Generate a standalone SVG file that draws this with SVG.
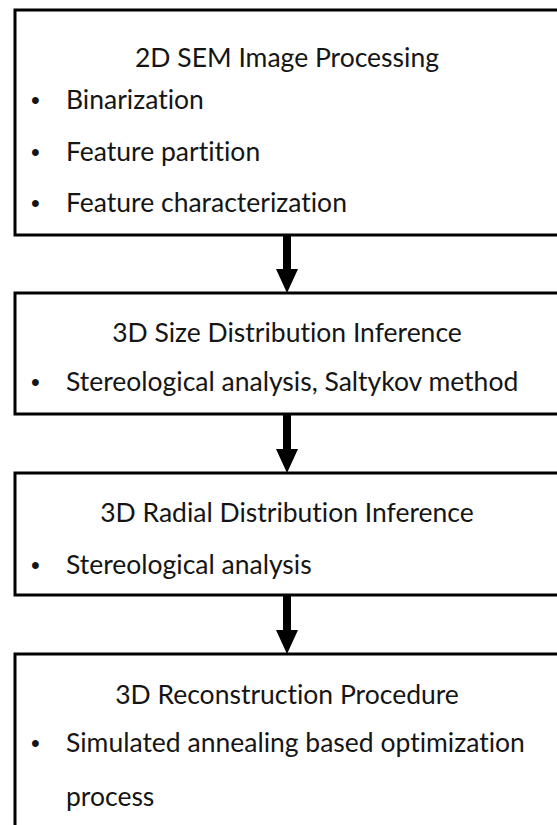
<svg xmlns="http://www.w3.org/2000/svg" width="557" height="825" viewBox="0 0 557 825">
<style>
.box{fill:#fff;stroke:#000;stroke-width:3}
.t{font-family:Lato,"Open Sans","Liberation Sans",sans-serif;font-size:26.5px;fill:#151515;font-variant-ligatures:none}
.b{font-family:"Liberation Sans",sans-serif;font-size:25px;fill:#151515}
.c{text-anchor:middle}
.arrow{fill:#000}
</style>
<rect width="557" height="825" fill="#fff"/>
<g id="node1">
<rect class="box" x="15" y="10" width="570" height="225"/>
<text class="t c" x="287" y="67">2D SEM Image Processing</text>
<text class="b" x="31" y="109">•</text><text class="t" x="66" y="109">Binarization</text>
<text class="b" x="31" y="161">•</text><text class="t" x="66" y="161">Feature partition</text>
<text class="b" x="31" y="212">•</text><text class="t" x="66" y="212">Feature characterization</text>
</g>
<g id="node2">
<rect class="box" x="15" y="293" width="570" height="121"/>
<text class="t c" x="287" y="342">3D Size Distribution Inference</text>
<text class="b" x="31" y="391">•</text><text class="t" x="66" y="391">Stereological analysis, Saltykov method</text>
</g>
<g id="node3">
<rect class="box" x="15" y="473" width="570" height="122"/>
<text class="t c" x="287" y="522">3D Radial Distribution Inference</text>
<text class="b" x="31" y="574">•</text><text class="t" x="66" y="574">Stereological analysis</text>
</g>
<g id="node4">
<rect class="box" x="15" y="654" width="570" height="200"/>
<text class="t c" x="287" y="704">3D Reconstruction Procedure</text>
<text class="b" x="31" y="752">•</text><text class="t" x="66" y="752">Simulated annealing based optimization</text>
<text class="t" x="66" y="806">process</text>
</g>
<g id="connectors">
<path class="arrow" d="M283 236H291V269H298L287 293L276 269H283Z"/>
<path class="arrow" d="M283 415H291V449H298L287 473L276 449H283Z"/>
<path class="arrow" d="M283 596H291V630H298L287 654L276 630H283Z"/>
</g>
</svg>
